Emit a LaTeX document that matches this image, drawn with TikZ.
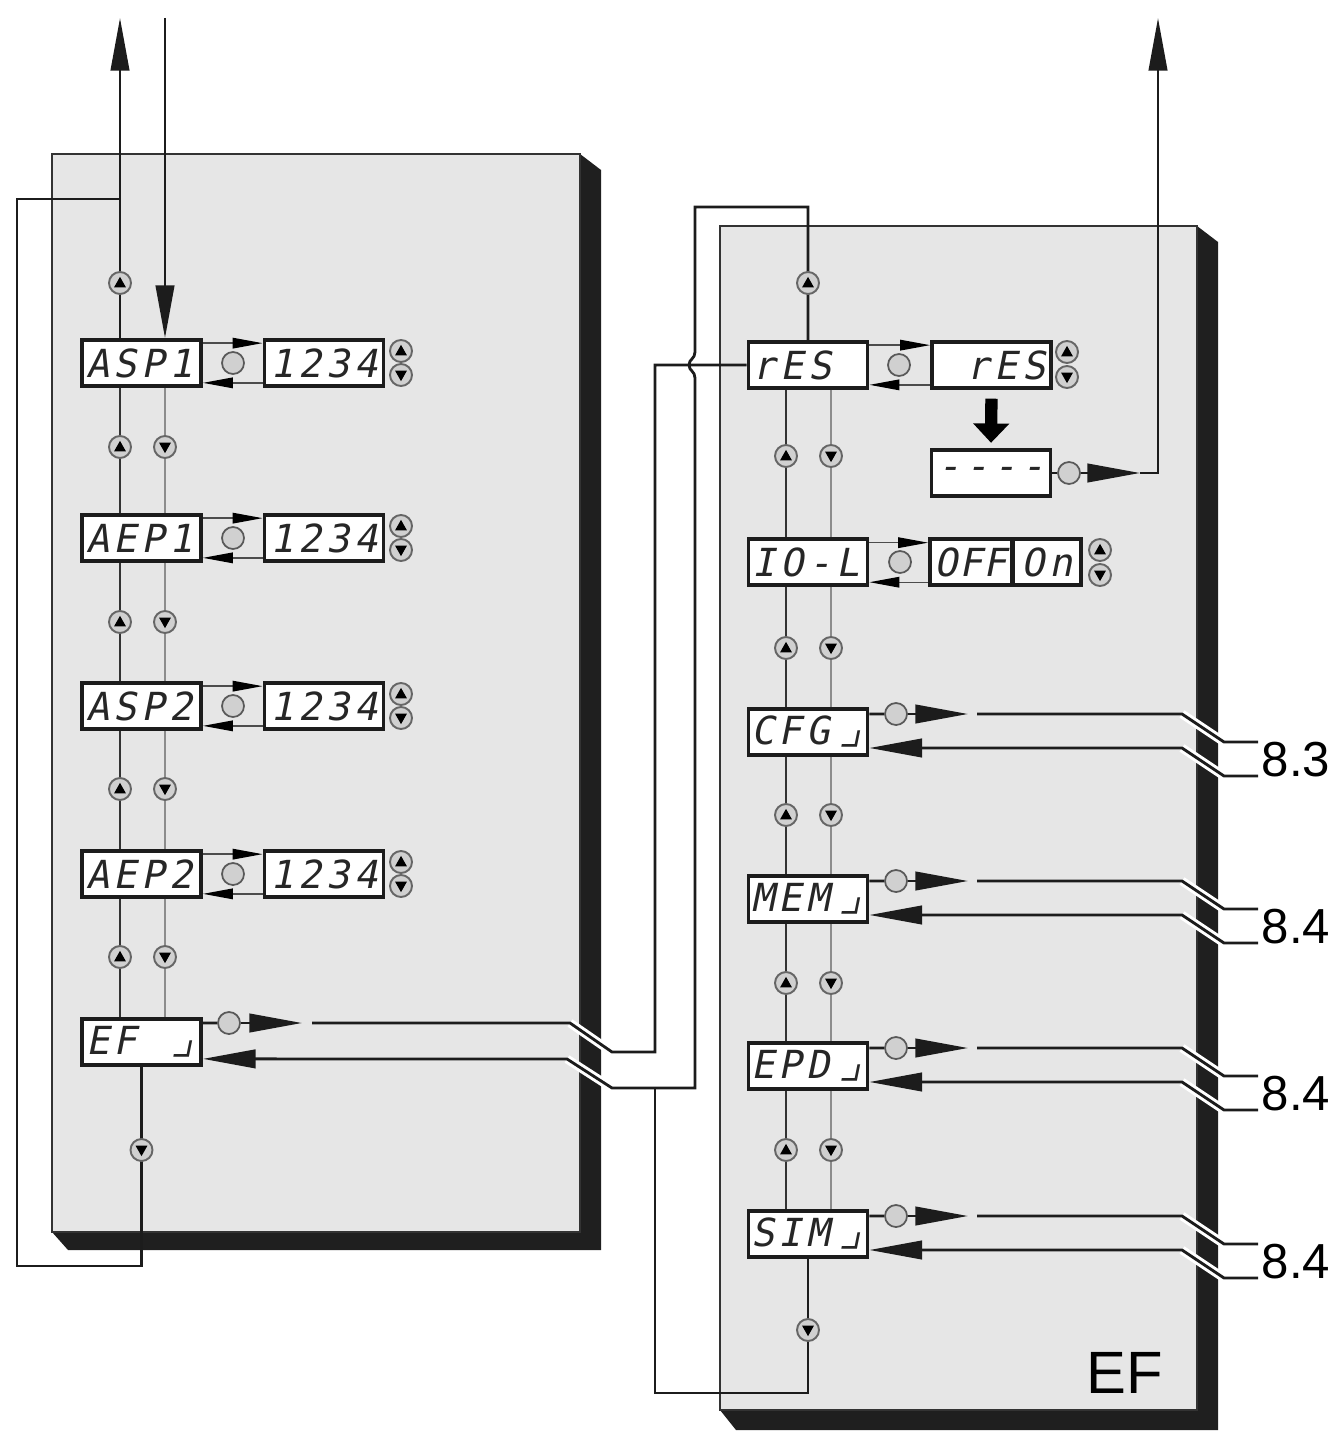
\documentclass[tikz,border=0pt]{standalone}
\usepackage{fontspec}
\setmainfont{Liberation Sans}
\newfontfamily\lcdfont[FakeSlant=0.2,LetterSpace=12]{DejaVu Sans Mono}
\newcommand{\seghook}{\hspace{3pt}{\fontsize{28}{22}\selectfont⌟}}
\usetikzlibrary{arrows.meta,calc}
\definecolor{panelgray}{HTML}{E6E6E6}
\definecolor{keygray}{HTML}{D0D0D0}
\definecolor{wirec}{HTML}{1C1C1C}
\tikzset{
  lcd/.style={draw=wirec,line width=2.2pt,fill=white,minimum width=2.38cm,minimum height=0.92cm,
    inner sep=0pt,font=\lcdfont\fontsize{22}{22}\selectfont,text=black!85},
  lcdl/.style={lcd,text width=2.22cm,align=left},
  lcdr/.style={lcd,text width=2.18cm,align=right},
  keyup/.style={circle,draw=black!60,fill=keygray,line width=1.1pt,minimum size=0.44cm,inner sep=0pt,
    path picture={\fill[black] ([yshift=3.5pt]path picture bounding box.center) -- ++(-3.4pt,-6pt) -- ++(6.8pt,0pt) -- cycle;}},
  keydown/.style={circle,draw=black!60,fill=keygray,line width=1.1pt,minimum size=0.44cm,inner sep=0pt,
    path picture={\fill[black] ([yshift=-3.5pt]path picture bounding box.center) -- ++(-3.4pt,6pt) -- ++(6.8pt,0pt) -- cycle;}},
  setkey/.style={circle,draw=black!65,fill=keygray,line width=1pt,minimum size=0.44cm,inner sep=0pt},
  wire/.style={draw=wirec,line width=1.6pt},
  halo/.style={draw=white,line width=5pt},
  bigarr/.style={-{Triangle[length=30pt,width=10.5pt]}},
  thinarr/.style={draw=black!70,line width=0.8pt,-{Triangle[length=17pt,width=6pt,color=black]}},
  blockarr/.style={draw=black,line width=7pt,-{Triangle[length=11pt,width=20pt]},shorten <=5pt,shorten >=3pt},
  vdark/.style={draw=black!80,line width=1.1pt},
  vlight/.style={draw=black!45,line width=0.9pt},
  panel/.style={fill=panelgray,draw=black!80,line width=0.8pt},
  dropside/.style={fill=black!88},
  reflab/.style={anchor=west,inner sep=2pt,font=\fontsize{28}{28}\selectfont},
}

\begin{document}
\begin{tikzpicture}[x=0.02cm,y=-0.02cm]
\useasboundingbox (0,0) rectangle (1339,1442);
% panels with their dark edge
\fill[dropside] (580,154) -- (601,170) -- (601,1250) -- (68,1250) -- (52,1232) -- (580,1232) -- cycle;
\draw[panel] (52,154) rectangle (580,1232);
\fill[dropside] (1197,226) -- (1218,242) -- (1218,1430) -- (736,1430) -- (720,1410) -- (1197,1410) -- cycle;
\draw[panel] (720,226) rectangle (1197,1410);
\node[font=\fontsize{34}{34}\selectfont] (eftag) at (1125,1373) {EF};

% left column: displays
\node[lcdl] (asp1) at (141.5,363) {ASP1};
\node[lcd] (val1) at (324,363) {1234};
\node[lcdl] (aep1) at (141.5,538) {AEP1};
\node[lcd] (val2) at (324,538) {1234};
\node[lcdl] (asp2) at (141.5,706) {ASP2};
\node[lcd] (val3) at (324,706) {1234};
\node[lcdl] (aep2) at (141.5,874) {AEP2};
\node[lcd] (val4) at (324,874) {1234};
\node[lcdl] (ef) at (141.5,1042) {EF\hfill\seghook};
\coordinate (ca) at (120,0);
\coordinate (cb) at (165,0);

% left column: set key and value arrows
\node[setkey] (set1) at (233,363) {};
\draw[thinarr] ([yshift=11.3pt]asp1.east) -- ([yshift=11.3pt]val1.west);
\draw[thinarr] ([yshift=-11.3pt]val1.west) -- ([yshift=-11.3pt]asp1.east);
\node[setkey] (set2) at (233,538) {};
\draw[thinarr] ([yshift=11.3pt]aep1.east) -- ([yshift=11.3pt]val2.west);
\draw[thinarr] ([yshift=-11.3pt]val2.west) -- ([yshift=-11.3pt]aep1.east);
\node[setkey] (set3) at (233,706) {};
\draw[thinarr] ([yshift=11.3pt]asp2.east) -- ([yshift=11.3pt]val3.west);
\draw[thinarr] ([yshift=-11.3pt]val3.west) -- ([yshift=-11.3pt]asp2.east);
\node[setkey] (set4) at (233,874) {};
\draw[thinarr] ([yshift=11.3pt]aep2.east) -- ([yshift=11.3pt]val4.west);
\draw[thinarr] ([yshift=-11.3pt]val4.west) -- ([yshift=-11.3pt]aep2.east);
\node[keyup] (vu1) at (401,351) {}; \node[keydown] (vd1) at (401,375) {};
\node[keyup] (vu2) at (401,526) {}; \node[keydown] (vd2) at (401,550) {};
\node[keyup] (vu3) at (401,694) {}; \node[keydown] (vd3) at (401,718) {};
\node[keyup] (vu4) at (401,862) {}; \node[keydown] (vd4) at (401,886) {};

% left column: up/down chain
\draw[vdark] (asp1.south -| ca) -- (aep1.north -| ca);
\draw[vlight] (asp1.south -| cb) -- (aep1.north -| cb);
\draw[vdark] (aep1.south -| ca) -- (asp2.north -| ca);
\draw[vlight] (aep1.south -| cb) -- (asp2.north -| cb);
\draw[vdark] (asp2.south -| ca) -- (aep2.north -| ca);
\draw[vlight] (asp2.south -| cb) -- (aep2.north -| cb);
\draw[vdark] (aep2.south -| ca) -- (ef.north -| ca);
\draw[vlight] (aep2.south -| cb) -- (ef.north -| cb);

% in and out at the top, loop back from EF
\coordinate (ljoin) at (120,199);
\draw[wire,bigarr] (asp1.north -| ca) -- (120,18);
\draw[wire,bigarr] (165,18) -- (asp1.north -| cb);
\draw[wire] (ef.south) -- ++(0,199) -| (17,199) -- (ljoin);

% right column: displays
\node[lcdl] (rres) at (808,365) {rES};
\node[lcdr] (rresv) at (991.5,365) {rES};
\node[lcd] (rdash) at (991,473) {-{}-{}-{}-};
\node[lcdl] (rio) at (808,562) {IO-L};
\node[lcd,minimum width=1.64cm,font=\lcdfont\addfontfeatures{LetterSpace=3}\fontsize{22}{22}\selectfont] (roff) at (971,562) {OFF};
\node[lcd,minimum width=1.36cm] (ron) at (1047,562) {On};
\node[lcd] (rcfg) at (808,732) {CFG\seghook};
\node[lcd] (rmem) at (808,899) {MEM\seghook};
\node[lcd] (repd) at (808,1066) {EPD\seghook};
\node[lcd] (rsim) at (808,1234) {SIM\seghook};
\coordinate (rca) at (786,0);
\coordinate (rcb) at (831,0);

% rES and IO-L rows
\node[setkey] (rset1) at (899,365) {};
\draw[thinarr] ([yshift=11.3pt]rres.east) -- ([yshift=11.3pt]rresv.west);
\draw[thinarr] ([yshift=-11.3pt]rresv.west) -- ([yshift=-11.3pt]rres.east);
\node[keyup] (rvu1) at (1067,352) {}; \node[keydown] (rvd1) at (1067,377) {};
\draw[blockarr] (rresv.south) -- (rdash.north);
\node[setkey] (rset2) at (1069,473) {};
\coordinate (rtop) at (1158,18);
\draw[wire] (rdash.east) -- (rset2);
\draw[wire,bigarr] (rset2) -- (1140,473);
\draw[wire,bigarr] (1140,473) -| (rtop);
\node[setkey] (rset3) at (900,562) {};
\draw[thinarr] ([yshift=11pt]rio.east) -- ([yshift=11pt]roff.west);
\draw[thinarr] ([yshift=-11.5pt]roff.west) -- ([yshift=-11.5pt]rio.east);
\node[keyup] (rvu2) at (1100,550) {}; \node[keydown] (rvd2) at (1100,575) {};

% right column: up/down chain
\draw[vdark] (rres.south -| rca) -- (rio.north -| rca);
\draw[vlight] (rres.south -| rcb) -- (rio.north -| rcb);
\draw[vdark] (rio.south -| rca) -- (rcfg.north -| rca);
\draw[vlight] (rio.south -| rcb) -- (rcfg.north -| rcb);
\draw[vdark] (rcfg.south -| rca) -- (rmem.north -| rca);
\draw[vlight] (rcfg.south -| rcb) -- (rmem.north -| rcb);
\draw[vdark] (rmem.south -| rca) -- (repd.north -| rca);
\draw[vlight] (rmem.south -| rcb) -- (repd.north -| rcb);
\draw[vdark] (repd.south -| rca) -- (rsim.north -| rca);
\draw[vlight] (repd.south -| rcb) -- (rsim.north -| rcb);

% submenu links to chapters
\node[reflab] (ref1) at (1258,760) {8.3};
\node[reflab] (ref2) at (1258,927) {8.4};
\node[reflab] (ref3) at (1258,1094) {8.4};
\node[reflab] (ref4) at (1258,1262) {8.4};
\node[setkey] (cset1) at (896,714) {};
\node[setkey] (cset2) at (896,881) {};
\node[setkey] (cset3) at (896,1048) {};
\node[setkey] (cset4) at (896,1216) {};
\draw[halo] (1182,714) -- (1224,742); \draw[halo] (1182,748) -- (1224,776);
\draw[halo] (1182,881) -- (1224,909); \draw[halo] (1182,915) -- (1224,943);
\draw[halo] (1182,1048) -- (1224,1076); \draw[halo] (1182,1082) -- (1224,1110);
\draw[halo] (1182,1216) -- (1224,1244); \draw[halo] (1182,1250) -- (1224,1278);
% CFG
\draw[wire] ([yshift=10.2pt]rcfg.east) -- (cset1);
\draw[wire,bigarr] (cset1) -- (968,714);
\draw[wire] (977,714) -- (1182,714) -- (1224,742) -- ([yshift=10.2pt]ref1.west);
\draw[wire,bigarr] ([yshift=-9.1pt]ref1.west) -- (1224,776) -- (1182,748) -- ([yshift=-9.1pt]rcfg.east);
% MEM
\draw[wire] ([yshift=10.2pt]rmem.east) -- (cset2);
\draw[wire,bigarr] (cset2) -- (968,881);
\draw[wire] (977,881) -- (1182,881) -- (1224,909) -- ([yshift=10.2pt]ref2.west);
\draw[wire,bigarr] ([yshift=-9.1pt]ref2.west) -- (1224,943) -- (1182,915) -- ([yshift=-9.1pt]rmem.east);
% EPD
\draw[wire] ([yshift=10.2pt]repd.east) -- (cset3);
\draw[wire,bigarr] (cset3) -- (968,1048);
\draw[wire] (977,1048) -- (1182,1048) -- (1224,1076) -- ([yshift=10.2pt]ref3.west);
\draw[wire,bigarr] ([yshift=-9.1pt]ref3.west) -- (1224,1110) -- (1182,1082) -- ([yshift=-9.1pt]repd.east);
% SIM
\draw[wire] ([yshift=10.2pt]rsim.east) -- (cset4);
\draw[wire,bigarr] (cset4) -- (968,1216);
\draw[wire] (977,1216) -- (1182,1216) -- (1224,1244) -- ([yshift=10.2pt]ref4.west);
\draw[wire,bigarr] ([yshift=-9.1pt]ref4.west) -- (1224,1278) -- (1182,1250) -- ([yshift=-9.1pt]rsim.east);

% EF <-> rES crossing between the panels
\node[setkey] (efset) at (229,1023) {};
\coordinate (efout) at (302,1023);
\coordinate (efgo) at (312,1023);
\draw[wire] ([yshift=10.8pt]ef.east) -- (efset);
\draw[wire,bigarr] (efset) -- (efout);
\draw[halo] (570,1023) -- (612,1052);
\draw[halo] (612,1088) -- (567,1059);
\draw[wire] (efgo) -- (570,1023) -- (612,1052) -- (655,1052) -- (655,365) -- (rres.west);
\draw[wire,bigarr] (rres.north) -- (808,207) -- (695,207) -- (695,352)
  .. controls (695,359) and (689,359) .. (689,365)
  .. controls (689,371) and (695,371) .. (695,378)
  -- (695,1088) -- (612,1088) -- (567,1059) -- ([yshift=-9.6pt]ef.east);
\draw[wire] (rsim.south) -- (808,1393) -| (655,1088);

% arrow keys on the lines
\node[keyup] (tup) at (120,283) {};
\node[keyup] (up1) at (120,447) {}; \node[keydown] (dn1) at (165,447) {};
\node[keyup] (up2) at (120,622) {}; \node[keydown] (dn2) at (165,622) {};
\node[keyup] (up3) at (120,789) {}; \node[keydown] (dn3) at (165,789) {};
\node[keyup] (up4) at (120,957) {}; \node[keydown] (dn4) at (165,957) {};
\node[keydown] (efdn) at (141.5,1150) {};
\node[keyup] (rtup) at (808,283) {};
\node[keyup] (rup1) at (786,456) {}; \node[keydown] (rdn1) at (831,456) {};
\node[keyup] (rup2) at (786,648) {}; \node[keydown] (rdn2) at (831,648) {};
\node[keyup] (rup3) at (786,815) {}; \node[keydown] (rdn3) at (831,815) {};
\node[keyup] (rup4) at (786,983) {}; \node[keydown] (rdn4) at (831,983) {};
\node[keyup] (rup5) at (786,1150) {}; \node[keydown] (rdn5) at (831,1150) {};
\node[keydown] (simdn) at (808,1330) {};
\end{tikzpicture}
\end{document}
